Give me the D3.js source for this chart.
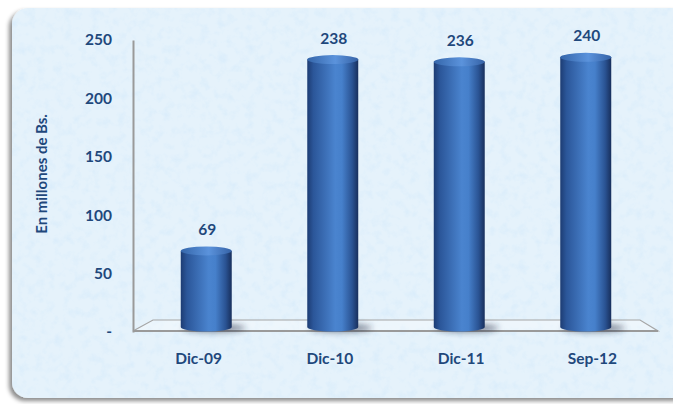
<!DOCTYPE html>
<html>
<head>
<meta charset="utf-8">
<script src="https://cdn.jsdelivr.net/npm/d3@7"></script>
<style>
  html, body { margin: 0; padding: 0; background: #ffffff; }
  svg { display: block; }
  text { font-family: Lato, "Open Sans", sans-serif; font-weight: 700; fill: #1f487c; }
</style>
</head>
<body>
<svg id="chart" width="673" height="404"></svg>
<script>
const categories = ["Dic-09", "Dic-10", "Dic-11", "Sep-12"];
const values = [69, 238, 236, 240];
const tickValues = [0, 50, 100, 150, 200, 250];
const tickLabels = ["-", "50", "100", "150", "200", "250"];
const axisTitle = "En millones de Bs.";

const svg = d3.select("#chart");
const defs = svg.append("defs");

// Panel shadow
const sh = defs.append("filter").attr("id", "panelShadow").attr("x", "-5%").attr("y", "-5%").attr("width", "110%").attr("height", "110%");
sh.append("feDropShadow").attr("dx", -3).attr("dy", 3).attr("stdDeviation", 2).attr("flood-color", "#000").attr("flood-opacity", 0.45);

// Texture
const tex = defs.append("filter").attr("id", "texture").attr("x", 0).attr("y", 0).attr("width", "100%").attr("height", "100%");
tex.append("feTurbulence").attr("type", "fractalNoise").attr("baseFrequency", 0.11).attr("numOctaves", 3).attr("seed", 7).attr("result", "noise");
tex.append("feColorMatrix").attr("in", "noise").attr("type", "matrix")
  .attr("values", "0 0 0 0 0.62  0 0 0 0 0.8  0 0 0 0 0.96  0 0 -2.4 0 1.3").attr("result", "col");
tex.append("feComposite").attr("in", "col").attr("in2", "SourceGraphic").attr("operator", "in");

// Bar gradient
const bg = defs.append("linearGradient").attr("id", "barGrad").attr("x1", 0).attr("x2", 1).attr("y1", 0).attr("y2", 0);
[["0%", "#1d3c73"], ["12%", "#2b5699"], ["55%", "#4a84cf"], ["68%", "#4680cb"], ["88%", "#2a5393"], ["100%", "#182f5c"]]
  .forEach(([o, c]) => bg.append("stop").attr("offset", o).attr("stop-color", c));
const tg = defs.append("linearGradient").attr("id", "topGrad").attr("x1", 0).attr("x2", 1).attr("y1", 0).attr("y2", 0);
[["0%", "#3566aa"], ["55%", "#5b93dc"], ["100%", "#3562a6"]]
  .forEach(([o, c]) => tg.append("stop").attr("offset", o).attr("stop-color", c));
const blur = defs.append("filter").attr("id", "blur").attr("x", "-50%").attr("y", "-200%").attr("width", "200%").attr("height", "500%");
blur.append("feGaussianBlur").attr("stdDeviation", 3);

// Panel
const panel = { x: 12, y: 8, w: 680, h: 390, r: 16 };
svg.append("rect").attr("x", panel.x).attr("y", panel.y).attr("width", panel.w).attr("height", panel.h)
  .attr("rx", panel.r).attr("fill", "#e5f2fb").attr("filter", "url(#panelShadow)");
svg.append("rect").attr("x", panel.x).attr("y", panel.y).attr("width", panel.w).attr("height", panel.h)
  .attr("rx", panel.r).attr("fill", "#fff").attr("filter", "url(#texture)").attr("opacity", 0.42);

// Scales
const yTick = d3.scaleLinear().domain([0, 250]).range([332, 40]);
const yBar = d3.scaleLinear().domain([0, 250]).range([329, 46]);
const xBar = d3.scaleBand().domain(categories).range([143, 649]).paddingInner(0.597).paddingOuter(0.2985);
const xLab = d3.scaleBand().domain(categories).range([133, 658]);

// Floor
const floorFront = 331, floorBack = 320;
svg.append("path")
  .attr("d", `M133,${floorFront} L153,${floorBack} L640,${floorBack} L658,${floorFront} Z`)
  .attr("fill", "rgba(255,255,255,0.35)").attr("stroke", "#a6a6a6").attr("stroke-width", 1.2);
svg.append("line").attr("x1", 133).attr("x2", 658).attr("y1", floorFront).attr("y2", floorFront)
  .attr("stroke", "#9a9a9a").attr("stroke-width", 2);

const fs = "15.5px";
// Y axis
const yAxis = d3.axisLeft(yTick).tickValues(tickValues).tickFormat((d, i) => tickLabels[i]).tickSize(0).tickPadding(21);
const ya = svg.append("g").attr("transform", "translate(133,0)").call(yAxis);
ya.select(".domain").attr("stroke", "#9a9a9a").attr("stroke-width", 2);
ya.selectAll("text").style("font-size", fs).attr("fill", "#1f487c").style("font-family", "Lato, sans-serif").style("font-weight", 700);

// Axis title
svg.append("text").attr("transform", "translate(47,174) rotate(-90)").attr("text-anchor", "middle")
  .style("font-size", "15px").text(axisTitle);

// X labels
const xAxis = d3.axisBottom(xLab).tickSize(0).tickPadding(22);
const xa = svg.append("g").attr("transform", `translate(0,${floorFront})`).call(xAxis);
xa.select(".domain").remove();
xa.selectAll("text").style("font-size", fs).attr("fill", "#1f487c").style("font-family", "Lato, sans-serif").style("font-weight", 700);

// Bars
const ry = 4.5;
const bars = svg.append("g").selectAll("g").data(values).join("g");
bars.append("ellipse")
  .attr("cx", (d, i) => xBar(categories[i]) + xBar.bandwidth() / 2 + 8)
  .attr("cy", yBar(0) - 1)
  .attr("rx", xBar.bandwidth() / 2 + 6).attr("ry", 4)
  .attr("fill", "#1a2540").attr("opacity", 0.55).attr("filter", "url(#blur)");
bars.append("path")
  .attr("d", (d, i) => {
    const x0 = xBar(categories[i]), w = xBar.bandwidth(), yt = yBar(d), yb = yBar(0) - 2;
    const rx = w / 2;
    return `M${x0},${yt} L${x0},${yb} A${rx},${ry} 0 0 0 ${x0 + w},${yb} L${x0 + w},${yt} Z`;
  })
  .attr("fill", "url(#barGrad)");
bars.append("ellipse")
  .attr("cx", (d, i) => xBar(categories[i]) + xBar.bandwidth() / 2)
  .attr("cy", d => yBar(d))
  .attr("rx", xBar.bandwidth() / 2).attr("ry", ry)
  .attr("fill", "url(#topGrad)");

// Value labels
bars.append("text")
  .attr("x", (d, i) => xBar(categories[i]) + xBar.bandwidth() / 2 + 1)
  .attr("y", d => yBar(d) - 16)
  .attr("text-anchor", "middle")
  .style("font-size", fs)
  .text(d => d);
</script>
</body>
</html>
